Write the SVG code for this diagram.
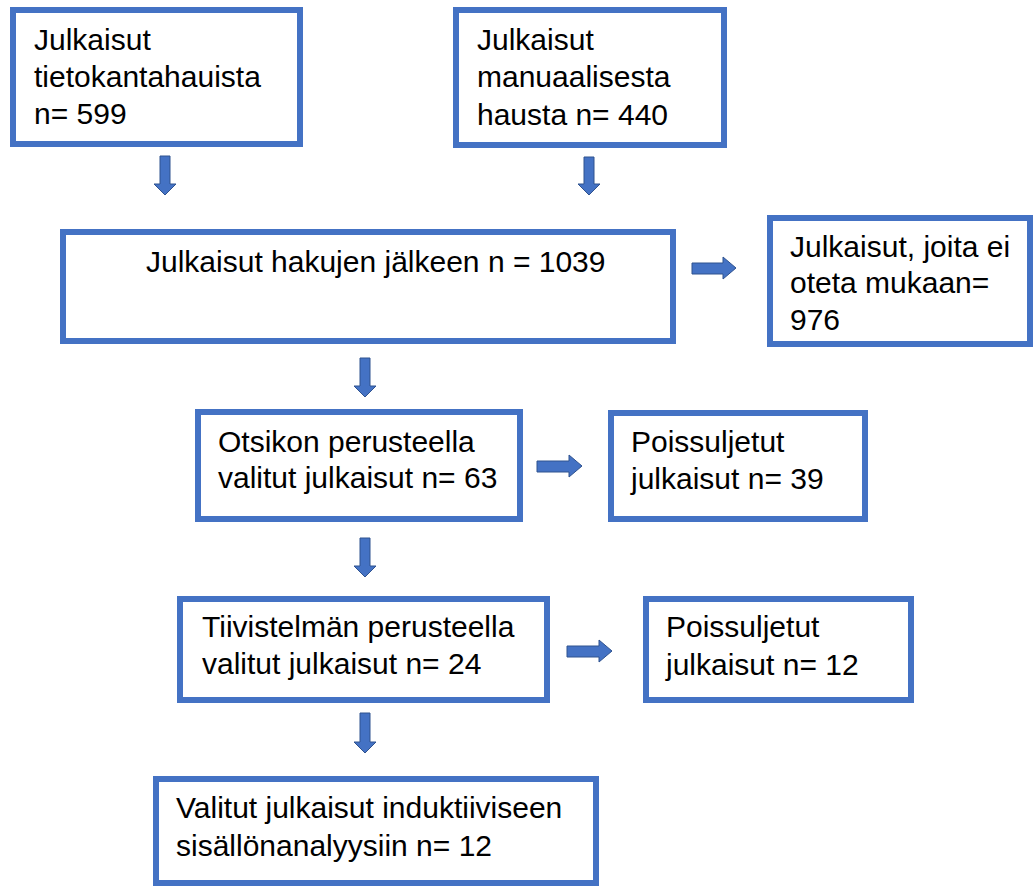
<svg xmlns="http://www.w3.org/2000/svg" width="1033" height="886" viewBox="0 0 1033 886">
<style>
.box{fill:#fff;stroke:#4472C4;stroke-width:6}
.arr{fill:#4472C4;stroke:#2F528F;stroke-width:1}
text{font-family:"Liberation Sans",Arial,sans-serif;font-size:30px;fill:#000}
</style>
<rect width="1033" height="886" fill="#fff"/>
<g id="connectors">
<path class="arr" d="M160 156H170V184H176L165 195L154 184H160Z"/>
<path class="arr" d="M584 157H594V184H600L589 195L578 184H584Z"/>
<path class="arr" d="M360 358H370V386H376L365 397L354 386H360Z"/>
<path class="arr" d="M360 538H370V566H376L365 577L354 566H360Z"/>
<path class="arr" d="M360 713H370V742H376L365 753L354 742H360Z"/>
<path class="arr" d="M692 263H723V257L736 268L723 279V274H692Z"/>
<path class="arr" d="M537 461H569V455L582 466L569 477V472H537Z"/>
<path class="arr" d="M567 646H599V640L612 651L599 662V657H567Z"/>
</g>
<g id="n1"><rect class="box" x="13" y="10" width="287" height="134"/>
<text x="34" y="50">Julkaisut</text><text x="34" y="87">tietokantahauista</text><text x="34" y="124">n= 599</text></g>
<g id="n2"><rect class="box" x="456" y="10" width="268" height="135"/>
<text x="477" y="50">Julkaisut</text><text x="477" y="87">manuaalisesta</text><text x="477" y="125">hausta n= 440</text></g>
<g id="n3"><rect class="box" x="63" y="232" width="610" height="109"/>
<text x="146" y="272">Julkaisut hakujen jälkeen n = 1039</text></g>
<g id="n4"><rect class="box" x="770" y="218" width="260" height="126"/>
<text x="790" y="257">Julkaisut, joita ei</text><text x="790" y="293">oteta mukaan=</text><text x="790" y="330">976</text></g>
<g id="n5"><rect class="box" x="198" y="412" width="322" height="107"/>
<text x="218" y="452">Otsikon perusteella</text><text x="218" y="488">valitut julkaisut n= 63</text></g>
<g id="n6"><rect class="box" x="611" y="413" width="254" height="106"/>
<text x="631" y="452">Poissuljetut</text><text x="631" y="489">julkaisut n= 39</text></g>
<g id="n7"><rect class="box" x="180" y="599" width="367" height="101"/>
<text x="202" y="637">Tiivistelmän perusteella</text><text x="202" y="674">valitut julkaisut n= 24</text></g>
<g id="n8"><rect class="box" x="646" y="599" width="265" height="101"/>
<text x="666" y="637">Poissuljetut</text><text x="666" y="675">julkaisut n= 12</text></g>
<g id="n9"><rect class="box" x="156" y="779" width="440" height="104"/>
<text x="176" y="818">Valitut julkaisut induktiiviseen</text><text x="176" y="856">sisällönanalyysiin n= 12</text></g>
</svg>
